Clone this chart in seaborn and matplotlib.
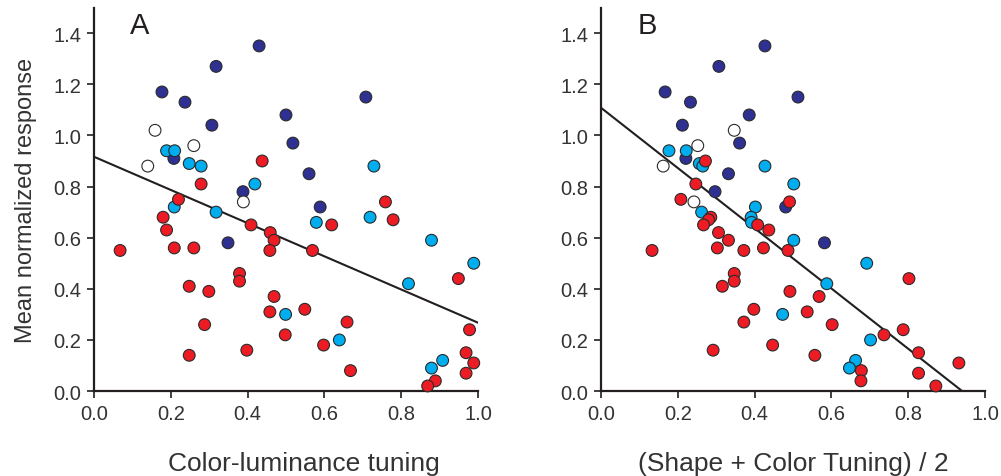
import numpy as np
import pandas as pd
import matplotlib
matplotlib.use("Agg")
import matplotlib.pyplot as plt
import seaborn as sns

# Mean normalized response per neuron (shared by both panels)
y_navy = [1.35, 1.27, 1.17, 1.15, 1.13, 1.08, 1.04, 0.97, 0.91, 0.85, 0.78, 0.72, 0.58]
xA_navy = [0.430, 0.318, 0.177, 0.708, 0.237, 0.500, 0.307, 0.518, 0.208, 0.560, 0.388, 0.589, 0.349]
xB_navy = [0.427, 0.307, 0.167, 0.513, 0.233, 0.386, 0.212, 0.361, 0.221, 0.332, 0.297, 0.481, 0.582]

y_white = [1.02, 0.96, 0.88, 0.74]
xA_white = [0.159, 0.260, 0.140, 0.389]
xB_white = [0.347, 0.252, 0.162, 0.242]

y_cyan = [0.94, 0.94, 0.89, 0.88, 0.88, 0.81, 0.72, 0.70, 0.68, 0.66, 0.59, 0.50, 0.42, 0.30, 0.20, 0.12, 0.09]
xA_cyan = [0.189, 0.210, 0.248, 0.279, 0.729, 0.419, 0.209, 0.318, 0.719, 0.579, 0.879, 0.989, 0.819, 0.499, 0.639, 0.908, 0.879]
xB_cyan = [0.177, 0.222, 0.256, 0.265, 0.427, 0.502, 0.402, 0.262, 0.391, 0.392, 0.502, 0.692, 0.588, 0.473, 0.702, 0.663, 0.647]

y_red = [0.90, 0.81, 0.75, 0.74, 0.68, 0.67, 0.65, 0.65, 0.63, 0.62, 0.59, 0.56, 0.56,
         0.55, 0.55, 0.55, 0.46, 0.44, 0.43, 0.41, 0.39, 0.37, 0.32, 0.31, 0.27, 0.26,
         0.24, 0.22, 0.18, 0.16, 0.15, 0.14, 0.11, 0.08, 0.07, 0.04, 0.02]
xA_red = [0.438, 0.279, 0.220, 0.759, 0.180, 0.779, 0.409, 0.619, 0.189, 0.459, 0.469, 0.209, 0.260,
          0.068, 0.458, 0.569, 0.379, 0.949, 0.379, 0.248, 0.299, 0.469, 0.549, 0.458, 0.659, 0.288,
          0.978, 0.498, 0.598, 0.398, 0.969, 0.248, 0.989, 0.668, 0.969, 0.889, 0.869]
xB_red = [0.272, 0.247, 0.208, 0.491, 0.286, 0.280, 0.267, 0.408, 0.437, 0.306, 0.332, 0.303, 0.423,
          0.133, 0.372, 0.487, 0.347, 0.802, 0.347, 0.316, 0.492, 0.568, 0.398, 0.537, 0.372, 0.602,
          0.787, 0.737, 0.447, 0.292, 0.827, 0.557, 0.932, 0.678, 0.827, 0.677, 0.872]

groups = ["navy", "white", "cyan", "red"]
palette = {"navy": "#2e3192", "white": "#ffffff", "cyan": "#00aeef", "red": "#ed1c24"}

panel_labels = ["A", "B"]
x_labels = ["Color-luminance tuning", "(Shape + Color Tuning) / 2"]
y_label = "Mean normalized response"
x_ticks = [0.0, 0.2, 0.4, 0.6, 0.8, 1.0]
y_ticks = [0.0, 0.2, 0.4, 0.6, 0.8, 1.0, 1.2, 1.4]


def build_frame(xs):
    ys = [y_navy, y_white, y_cyan, y_red]
    rows = []
    for g, xv, yv in zip(groups, xs, ys):
        for a, b in zip(xv, yv):
            rows.append({"x": a, "y": b, "group": g})
    return pd.DataFrame(rows)


df_A = build_frame([xA_navy, xA_white, xA_cyan, xA_red])
df_B = build_frame([xB_navy, xB_white, xB_cyan, xB_red])

sns.set_style("ticks")
plt.rcParams["font.family"] = ["Liberation Sans", "DejaVu Sans"]
ink = "#231f20"
txt = "#333333"

fig = plt.figure(figsize=(10.01, 4.77), dpi=100)
ax_A = fig.add_axes([0.0939, 0.178, 0.3836, 0.804])
ax_B = fig.add_axes([0.6004, 0.178, 0.3836, 0.804])

for ax, df, lab, xl in zip([ax_A, ax_B], [df_A, df_B], panel_labels, x_labels):
    ax.set_xlim(0, 1.0)
    ax.set_ylim(0, 1.5)
    sns.regplot(data=df, x="x", y="y", ax=ax, scatter=False, ci=None,
                truncate=False, line_kws={"color": ink, "lw": 1.5})
    sns.scatterplot(data=df, x="x", y="y", hue="group", palette=palette,
                    hue_order=groups, s=72, edgecolor="#2a2a2a", linewidth=0.8,
                    legend=False, ax=ax, zorder=3, clip_on=False)
    ax.set_xlim(0, 1.0)
    ax.set_ylim(0, 1.5)
    ax.set_xticks(x_ticks)
    ax.set_yticks(y_ticks)
    ax.set_xticklabels([f"{t:.1f}" for t in x_ticks])
    ax.set_yticklabels([f"{t:.1f}" for t in y_ticks])
    ax.tick_params(direction="out", length=5, width=1.2, colors=ink,
                   labelsize=14.5, labelcolor=txt, pad=4)
    for side in ["left", "bottom"]:
        ax.spines[side].set_linewidth(1.6)
        ax.spines[side].set_color(ink)
    sns.despine(ax=ax)
    ax.set_xlabel(xl, fontsize=19, color=txt)
    ax.set_ylabel("")
    ax.text(0.12, 1.43, lab, fontsize=21, color=ink, ha="center", va="center")

# x labels placed in axes coordinates; the left one sits a little right of centre
ax_A.xaxis.set_label_coords(0.547, -0.155)
ax_B.xaxis.set_label_coords(0.5, -0.155)
ax_A.set_ylabel(y_label, fontsize=17, color=txt, labelpad=12)

fig.savefig("out.png", dpi=100)
